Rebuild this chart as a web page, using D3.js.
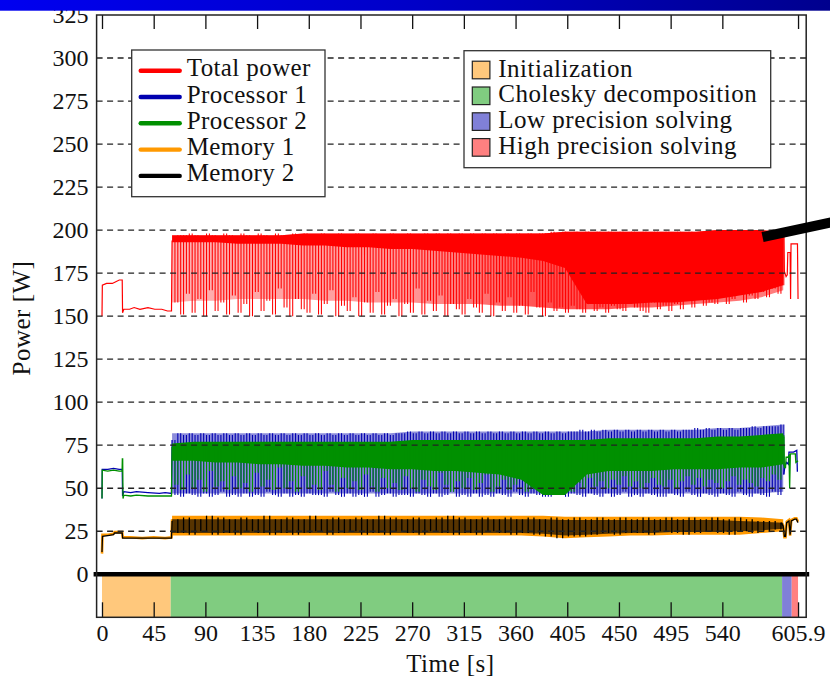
<!DOCTYPE html>
<html lang="en">
<head>
    <meta charset="UTF-8">
    <title>Power profile</title>
    <style>
        body {
            margin: 0;
            background-color: #ffffff;
        }
        svg {
            display: block;
        }
        text {
            font-family: "Liberation Serif", "DejaVu Serif", serif;
            fill: #111;
        }
    </style>
</head>
<body>
<svg width="830" height="684"></svg>
<script src="https://d3js.org/d3.v7.min.js"></script>
<script>
    // ---- data ----
    const seriesNames = ["Total power", "Processor 1", "Processor 2", "Memory 1", "Memory 2"];
    const seriesColors = ["#ff0000", "#0000b0", "#009000", "#ff9900", "#000000"];

    const phaseNames = ["Initialization", "Cholesky decomposition", "Low precision solving", "High precision solving"];
    const phaseStart = [0, 59.8, 592, 600.4];
    const phaseEnd = [59.8, 592, 600.4, 605.9];
    const phaseColors = ["#ffc87c", "#80cc80", "#8080d8", "#ff8080"];

    const xTicks = [0, 45, 90, 135, 180, 225, 270, 315, 360, 405, 450, 495, 540, 605.9];
    const yTicks = [0, 25, 50, 75, 100, 125, 150, 175, 200, 225, 250, 275, 300, 325];
    const gridTicks = [25, 50, 75, 100, 125, 150, 175, 200, 225, 250, 275, 300];

    // sampled part of the run: one value every busyStep seconds (peak, trough, peak, ...)
    const busyStart = 61, busyStep = 2.5, memStep = 5;
    // envelopes: one value every knotStep seconds
    const knotStart = 61, knotStep = 19;

    // Total power
    const redStart = [[0, 150], [0.3, 168], [4, 169], [9, 169], [12, 170], [15, 171], [17.6, 171], [17.9, 152],
        [19, 154], [24, 154], [28, 155], [33, 154], [40, 155], [46, 154], [52, 154], [57, 153], [60.5, 153], [61, 194]];
    const redBusy = [
        194, 158, 197, 151, 197, 163, 198, 152, 197, 160,
        196, 150, 198, 165, 197, 153, 196, 158, 198, 151,
        197, 162, 196, 152, 198, 157, 197, 150, 196, 164,
        198, 153, 197, 159, 196, 151, 198, 166, 197, 155,
        196, 150, 198, 160, 197, 154, 198, 152, 196, 163,
        197, 151, 198, 157, 196, 165, 197, 150, 198, 156,
        197, 153, 196, 161, 198, 150, 197, 158, 196, 152,
        198, 164, 197, 151, 196, 156, 198, 160, 197, 150,
        197, 157, 198, 152, 197, 166, 196, 151, 198, 159,
        197, 153, 198, 162, 197, 150, 198, 157, 196, 154,
        198, 151, 197, 160, 198, 155, 197, 152, 198, 163,
        197, 150, 198, 158, 197, 153, 198, 161, 197, 152,
        198, 156, 197, 151, 198, 164, 197, 155, 198, 150,
        198, 158, 199, 153, 198, 155, 199, 152, 198, 156,
        199, 154, 198, 152, 199, 157, 198, 153, 199, 155,
        198, 152, 199, 156, 198, 154, 199, 153, 198, 157,
        199, 155, 198, 153, 199, 152, 198, 158, 199, 154,
        198, 156, 199, 153, 198, 157, 199, 154, 198, 159,
        199, 155, 198, 160, 199, 156, 198, 158, 199, 157,
        198, 161, 199, 157, 198, 160, 199, 163, 198, 158,
        199, 162, 198, 160, 199, 164, 198, 161, 199, 166,
        198, 163, 199, 168];
    const redEnd = [[593.5, 198], [594, 176], [595.5, 173], [596.5, 174], [597, 187], [599, 187], [599.4, 160],
        [599.8, 192], [602, 192], [605.4, 192], [605.9, 160]];
    const redTop = [197, 197, 197, 197, 197, 197, 198, 198, 198, 198, 198, 198, 198, 198, 198, 198, 198, 198,
        199, 199, 199, 199, 199, 199, 199, 200, 200, 200, 199];
    const redCore = [193, 193, 193, 192, 192, 192, 191, 191, 190, 190, 189, 189, 188, 187, 186, 185, 184, 182,
        178, 157, 157, 157, 158, 158, 159, 160, 162, 164, 168];
    const redHaze = [158, 159, 159, 160, 160, 160, 160, 159, 159, 158, 158, 158, 157, 157, 157, 156, 156, 155,
        154, 154, 154, 155, 155, 156, 157, 158, 159, 161, 165];

    // Processor 1
    const p1Start = [[0, 44], [0.2, 61], [5, 61], [10, 61.5], [15, 61], [17.6, 61], [17.9, 45.5], [19, 48],
        [25, 47.5], [30, 48], [40, 47.5], [50, 47], [55, 47.5], [60.5, 47], [61, 78]];
    const p1Busy = [
        78, 46, 82, 45, 81, 47, 82, 46, 81, 45,
        82, 47, 81, 45, 82, 46, 81, 48, 82, 45,
        81, 46, 82, 45, 81, 47, 82, 45, 81, 46,
        82, 45, 81, 48, 82, 46, 81, 45, 82, 47,
        81, 45, 82, 46, 81, 45, 82, 47, 81, 46,
        82, 46, 81, 45, 82, 48, 81, 46, 82, 45,
        81, 47, 82, 45, 81, 46, 82, 45, 81, 48,
        82, 45, 81, 46, 82, 47, 81, 45, 82, 46,
        82, 46, 83, 45, 82, 47, 83, 46, 82, 45,
        83, 47, 82, 45, 83, 46, 82, 48, 83, 45,
        82, 46, 83, 45, 82, 47, 83, 45, 82, 46,
        83, 45, 82, 47, 83, 46, 82, 45, 83, 48,
        82, 46, 83, 45, 82, 47, 83, 46, 82, 45,
        83, 45, 82, 46, 83, 48, 82, 45, 83, 47,
        83, 46, 84, 45, 83, 47, 84, 46, 83, 45,
        84, 47, 83, 45, 84, 46, 83, 48, 84, 45,
        83, 46, 84, 45, 83, 47, 84, 46, 83, 45,
        84, 45, 83, 47, 84, 46, 83, 45, 84, 48,
        84, 46, 85, 45, 84, 47, 85, 46, 84, 45,
        85, 47, 84, 46, 85, 45, 84, 48, 85, 46,
        85, 45, 86, 47, 85, 46, 86, 45, 86, 48,
        86, 46, 87, 58];
    const p1End = [[593.5, 58], [594.5, 63], [596, 65], [597.5, 64], [598, 71], [602, 71], [604.8, 72],
        [605.3, 60], [605.9, 60]];
    const p1Top = [82, 82, 82, 82, 82, 82, 82, 82, 82, 82, 82, 83, 83, 83, 83, 83, 83, 83, 83, 83,
        84, 84, 84, 84, 84, 85, 85, 86, 87];
    const p1Haze = [47, 47, 47, 47, 47, 47, 47, 47, 47, 47, 47, 47, 47, 47, 47, 47, 47, 47, 47, 47,
        47, 47, 47, 47, 47, 47, 47, 47, 48];

    // Processor 2
    const p2Start = [[0, 44], [0.2, 60.5], [5, 60], [10, 60.5], [15, 60], [17.5, 60], [17.7, 67], [18, 67],
        [18.3, 44], [19, 46], [25, 45.5], [30, 46], [40, 45.5], [50, 45.5], [60.5, 45.5], [61, 74]];
    const p2Busy = [
        74, 52, 76, 49, 75, 58, 76, 50, 75, 55,
        76, 48, 75, 60, 76, 51, 75, 54, 76, 49,
        75, 57, 76, 50, 75, 53, 76, 48, 75, 59,
        76, 51, 75, 55, 76, 49, 75, 62, 76, 50,
        75, 54, 76, 48, 75, 57, 76, 50, 75, 52,
        76, 49, 75, 60, 76, 52, 75, 48, 76, 56,
        75, 50, 76, 54, 75, 49, 76, 58, 75, 51,
        76, 48, 75, 56, 76, 50, 75, 53, 76, 49,
        76, 57, 77, 50, 76, 48, 77, 55, 76, 51,
        77, 49, 76, 59, 77, 52, 76, 48, 77, 54,
        76, 50, 77, 56, 76, 49, 77, 53, 76, 58,
        77, 48, 76, 51, 77, 55, 76, 49, 77, 52,
        76, 57, 77, 48, 76, 50, 77, 54, 76, 49,
        77, 47, 76, 48, 77, 47, 76, 50, 77, 48,
        77, 53, 78, 50, 77, 56, 78, 51, 77, 54,
        78, 50, 77, 55, 78, 52, 77, 57, 78, 51,
        77, 54, 78, 50, 77, 53, 78, 56, 77, 52,
        78, 51, 77, 55, 78, 50, 77, 54, 78, 57,
        78, 52, 79, 56, 78, 51, 79, 55, 78, 53,
        79, 50, 78, 54, 79, 57, 78, 52, 79, 55,
        79, 53, 80, 51, 79, 56, 80, 54, 80, 58,
        80, 55, 81, 63];
    const p2End = [[593.5, 80], [594, 62], [595, 62], [595.5, 68], [597, 68], [598, 69], [598.6, 50], [599.2, 70],
        [602, 70], [603.5, 70], [604, 65], [605.9, 66]];
    const p2Top = [76, 77, 77, 77, 77, 77, 77, 77, 77, 77, 77, 78, 78, 78, 78, 78, 78, 78, 78, 78,
        79, 79, 79, 79, 79, 80, 80, 81, 82];
    const p2Core = [66, 66, 65, 65, 64, 64, 63, 63, 62, 62, 61, 61, 60, 60, 59, 58, 55, 46, 46, 58,
        60, 60, 60, 61, 61, 61, 62, 62, 64];

    // Memory 1
    const m1Start = [[0, 12], [0.4, 23], [5, 23], [10, 23.5], [11, 24.5], [17.6, 24.5], [18, 21.5], [25, 21.5],
        [35, 21], [45, 21.5], [55, 21], [60.5, 21.5], [61, 32]];
    const m1End = [[591, 30], [593, 28.5], [594, 21.5], [595, 21.5], [596, 30.5], [598, 31.5], [599, 22.5],
        [600, 31.5], [603, 32.5], [604.5, 32.5], [605.9, 30.5]];
    const m1Top = [34, 34, 34, 34, 34, 34, 34, 34, 34, 34, 34, 34, 34, 34, 34, 34, 34, 34,
        33.5, 33.5, 33.5, 33.5, 33.5, 33.5, 33.5, 33.5, 33.5, 33, 32];
    const m1Low = [22.5, 22.5, 22.5, 22.5, 22.5, 22.5, 22.5, 22.5, 22.5, 22.5, 22.5, 22.5, 22.5, 22.5, 22.5,
        22.5, 22.5, 22, 21, 21.5, 22, 22.5, 22.5, 23, 23, 23, 23, 24, 25];

    // Memory 2
    const m2Start = [[0, 13], [0.4, 22], [5, 22.5], [10, 23], [11, 24], [17.6, 24], [18, 21], [25, 21],
        [35, 21], [45, 21], [55, 21], [60.5, 21], [61, 31]];
    const m2Busy = [
        32, 24, 33, 23, 32, 25, 34, 23, 33, 24,
        32, 23, 33, 25, 32, 24, 34, 23, 32, 24,
        33, 23, 32, 24, 34, 25, 32, 23, 33, 24,
        32, 25, 33, 23, 32, 24, 34, 23, 33, 25,
        32, 24, 33, 23, 32, 25, 33, 24, 34, 23,
        33, 24, 32, 23, 33, 25, 32, 24, 33, 23,
        32, 24, 33, 23, 32, 22, 33, 21, 32, 22,
        33, 22, 32, 23, 33, 24, 32, 23, 33, 24,
        32, 24, 33, 23, 32, 25, 33, 24, 32, 23,
        33, 24, 32, 25, 33, 24, 32, 23, 33, 25,
        32, 24, 31, 25, 31, 26, 30];
    const m2End = [[591, 30], [593, 28], [594, 22], [595, 22], [596, 30], [598, 31], [599, 23], [600, 31],
        [603, 32], [604.5, 32], [605.5, 30.5], [605.9, 30]];
    const m2Top = [32, 32, 32, 32, 32, 32, 32, 32, 32, 32, 32, 32, 32, 32, 32, 32, 32, 32,
        31.5, 31.5, 31.5, 31.5, 31.5, 31.5, 31.5, 31.5, 31, 30.5, 30];
    const m2Low = [24, 24, 24, 24, 24, 24, 24, 24, 24, 24, 24, 24, 24, 24, 24, 24, 24, 23.5, 22.5, 23, 23.5,
        24, 24, 24.5, 24.5, 24.5, 25, 25.5, 26.5];

    // slide annotation arrow, in data units
    const arrowFrom = [575, 196], arrowTo = [640, 205.3];

    // ---- chart ----
    const width = 830, height = 684;
    const svg = d3.select("svg").attr("viewBox", "0 0 " + width + " " + height);

    const x = d3.scaleLinear().domain([-4.7, 613]).range([96.6, 806.2]);
    const y = d3.scaleLinear().domain([-25, 325]).range([617.3, 15]);
    const [x0, x1] = x.range(), [yb, yt] = y.range();

    const line = d3.line().x(d => x(d[0])).y(d => y(d[1]));
    const area = d3.area().x(d => x(d[0])).y0(d => y(d[1])).y1(d => y(d[2]));
    const band = (lo, hi) => lo.map((v, i) => [knotStart + i * knotStep, v, hi[i]]);
    // min/max rendering of the busy samples: a vertical stroke for every change between two samples
    const spikes = (vals, t0, dt) => d3.range(1, vals.length).map(i => [t0 + i * dt, vals[i - 1], vals[i]]);

    const defs = svg.append("defs");
    defs.append("clipPath").attr("id", "plotClip")
        .append("rect").attr("x", x0).attr("y", yt).attr("width", x1 - x0).attr("height", yb - yt);

    // the pink haze under the red trace gets denser towards the end of the factorisation
    const haze = defs.append("linearGradient").attr("id", "redHaze")
        .attr("gradientUnits", "userSpaceOnUse")
        .attr("x1", x(61)).attr("x2", x(593)).attr("y1", 0).attr("y2", 0);
    haze.append("stop").attr("offset", 0).attr("stop-color", "#ff0000").attr("stop-opacity", 0.3);
    haze.append("stop").attr("offset", 0.4).attr("stop-color", "#ff0000").attr("stop-opacity", 0.42);
    haze.append("stop").attr("offset", 0.62).attr("stop-color", "#ff0000").attr("stop-opacity", 0.7);
    haze.append("stop").attr("offset", 1).attr("stop-color", "#ff0000").attr("stop-opacity", 0.5);

    const plot = svg.append("g").attr("clip-path", "url(#plotClip)");

    function drawSpikes(data, color, w) {
        plot.append("g").selectAll("line")
            .data(data)
            .enter()
            .append("line")
            .attr("x1", d => x(d[0])).attr("x2", d => x(d[0]))
            .attr("y1", d => y(d[1])).attr("y2", d => y(d[2]))
            .attr("stroke", color)
            .attr("stroke-width", w);
    }
    function drawLine(pts, color, w) {
        plot.append("path").attr("d", line(pts))
            .attr("fill", "none").attr("stroke", color).attr("stroke-width", w);
    }

    // phase bar under the zero line
    plot.append("g").selectAll("rect")
        .data(phaseNames)
        .enter()
        .append("rect")
        .attr("x", (d, i) => x(phaseStart[i]))
        .attr("width", (d, i) => x(phaseEnd[i]) - x(phaseStart[i]))
        .attr("y", y(0))
        .attr("height", y(-25) - y(0))
        .attr("fill", (d, i) => phaseColors[i]);

    // Total power
    plot.append("path").attr("d", area(band(redHaze, redTop))).attr("fill", "url(#redHaze)");
    drawSpikes(spikes(redBusy, busyStart, busyStep), seriesColors[0], 1.05);
    plot.append("path").attr("d", area(band(redCore, redTop))).attr("fill", seriesColors[0]);
    drawLine(redStart, seriesColors[0], 1.2);
    drawLine(redEnd, seriesColors[0], 1.2);

    // Processor 1
    plot.append("path").attr("d", area(band(p1Haze, p1Top)))
        .attr("fill", seriesColors[1]).attr("fill-opacity", 0.45);
    drawSpikes(spikes(p1Busy, busyStart, busyStep), seriesColors[1], 1.1);
    drawLine(p1Start, seriesColors[1], 1.3);
    drawLine(p1End, seriesColors[1], 1.3);

    // Processor 2
    plot.append("path").attr("d", area(band(p2Core, p2Top))).attr("fill", seriesColors[2]);
    drawSpikes(spikes(p2Busy, busyStart, busyStep), seriesColors[2], 1.1);
    drawLine(p2Start, seriesColors[2], 1.3);
    drawLine(p2End, seriesColors[2], 1.3);

    // Memory 1
    plot.append("path").attr("d", area(band(m1Low, m1Top))).attr("fill", seriesColors[3]);
    drawLine(m1Start, seriesColors[3], 2.6);
    drawLine(m1End, seriesColors[3], 2.6);

    // Memory 2
    plot.append("path").attr("d", area(band(m2Low, m2Top)))
        .attr("fill", "#3a2200").attr("fill-opacity", 0.85);
    drawSpikes(spikes(m2Busy, busyStart, memStep), seriesColors[4], 1.3);
    drawLine(m2Start, seriesColors[4], 1.3);
    drawLine(m2End, seriesColors[4], 1.3);

    // dashed grid, drawn over the traces
    svg.append("g").selectAll("line")
        .data(gridTicks)
        .enter()
        .append("line")
        .attr("x1", x0).attr("x2", x1)
        .attr("y1", d => y(d)).attr("y2", d => y(d))
        .attr("stroke", "#222")
        .attr("stroke-width", 1.3)
        .attr("stroke-dasharray", "6,4.5");

    // thick zero line
    svg.append("line")
        .attr("x1", x0 - 3).attr("x2", x1 + 3)
        .attr("y1", y(0)).attr("y2", y(0))
        .attr("stroke", "#000").attr("stroke-width", 4.6);

    // axes
    const yAxis = svg.append("g")
        .attr("transform", "translate(" + x0 + ",0)")
        .call(d3.axisLeft(y).tickValues(yTicks).tickSize(0).tickPadding(8));
    yAxis.select(".domain").remove();
    yAxis.selectAll("text").style("font-size", "24px").style("font-family", "Liberation Serif, serif");

    const xAxis = svg.append("g")
        .attr("transform", "translate(0," + yb + ")")
        .call(d3.axisBottom(x).tickValues(xTicks).tickSizeInner(-15).tickSizeOuter(0).tickPadding(7)
            .tickFormat(d => String(d)));
    xAxis.select(".domain").remove();
    xAxis.selectAll("line").attr("stroke", "#111").attr("stroke-width", 1.3);
    xAxis.selectAll("text").style("font-size", "24px").style("font-family", "Liberation Serif, serif");

    const xTop = svg.append("g")
        .attr("transform", "translate(0," + yt + ")")
        .call(d3.axisTop(x).tickValues(xTicks).tickSizeInner(-14).tickSizeOuter(0).tickFormat(""));
    xTop.select(".domain").remove();
    xTop.selectAll("line").attr("stroke", "#111").attr("stroke-width", 1.3);

    // frame
    svg.append("rect")
        .attr("x", x0).attr("y", yt)
        .attr("width", x1 - x0).attr("height", yb - yt)
        .attr("fill", "none").attr("stroke", "#222").attr("stroke-width", 1.5);

    // axis titles
    svg.append("text")
        .attr("x", (x0 + x1) / 2 - 1).attr("y", 672)
        .attr("text-anchor", "middle")
        .style("font-size", "25px").style("letter-spacing", "0.5px")
        .text("Time [s]");
    svg.append("text")
        .attr("transform", "translate(30," + 318 + ") rotate(-90)")
        .attr("text-anchor", "middle")
        .style("font-size", "25px").style("letter-spacing", "0.5px")
        .text("Power [W]");

    // series legend
    const leg1 = svg.append("g").attr("transform", "translate(131.7,50)");
    leg1.append("rect").attr("width", 193.3).attr("height", 146.7)
        .attr("fill", "#fff").attr("stroke", "#333").attr("stroke-width", 1.3);
    const rows1 = leg1.selectAll(".row").data(seriesNames).enter().append("g")
        .attr("transform", (d, i) => "translate(0," + (20.7 + i * 26.3) + ")");
    rows1.append("line").attr("x1", 9).attr("x2", 48)
        .attr("stroke", (d, i) => seriesColors[i])
        .attr("stroke-width", 4.4).attr("stroke-linecap", "round");
    rows1.append("text").attr("x", 55).attr("y", 5.5)
        .style("font-size", "25px").style("letter-spacing", "0.4px").text(d => d);

    // phase legend
    const leg2 = svg.append("g").attr("transform", "translate(464,50.7)");
    leg2.append("rect").attr("width", 306.7).attr("height", 117)
        .attr("fill", "#fff").attr("stroke", "#333").attr("stroke-width", 1.3);
    const rows2 = leg2.selectAll(".row").data(phaseNames).enter().append("g")
        .attr("transform", (d, i) => "translate(0," + (19.3 + i * 25.8) + ")");
    rows2.append("rect").attr("x", 8.3).attr("y", -8.8).attr("width", 17.6).attr("height", 17.6)
        .attr("fill", (d, i) => phaseColors[i]).attr("stroke", "#222").attr("stroke-width", 1.2);
    rows2.append("text").attr("x", 34.3).attr("y", 6.5)
        .style("font-size", "25px").style("letter-spacing", "0.5px").text(d => d);

    // annotation arrow from the slide
    svg.append("line")
        .attr("x1", x(arrowFrom[0])).attr("y1", y(arrowFrom[1]))
        .attr("x2", x(arrowTo[0])).attr("y2", y(arrowTo[1]))
        .attr("stroke", "#000").attr("stroke-width", 10);

    // slide header bar
    const grad = defs.append("linearGradient").attr("id", "hdr");
    grad.append("stop").attr("offset", "0").attr("stop-color", "#0000f0");
    grad.append("stop").attr("offset", "0.5").attr("stop-color", "#0000c8");
    grad.append("stop").attr("offset", "1").attr("stop-color", "#00008e");
    svg.append("rect").attr("x", 0).attr("y", 0).attr("width", width).attr("height", 10.7)
        .attr("fill", "url(#hdr)");
</script>
</body>
</html>
